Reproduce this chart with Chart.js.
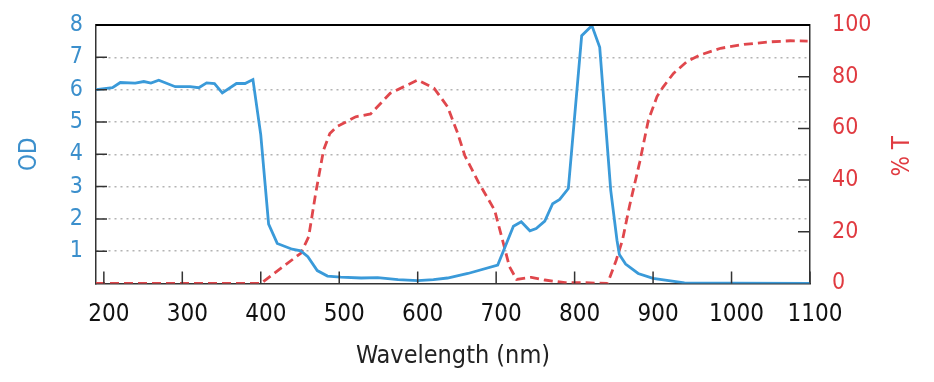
<!DOCTYPE html>
<html>
<head>
<meta charset="utf-8">
<script src="https://cdn.jsdelivr.net/npm/chart.js@4.4.0/dist/chart.umd.min.js"></script>
<style>
  html, body { margin: 0; padding: 0; background: #fff; }
  #wrap { width: 934px; height: 382px; position: relative; }
</style>
</head>
<body>
<div id="wrap"><canvas id="odChart"></canvas></div>
<script>
// --- datos ---
const odWavelengths = [190, 211, 221, 240, 251, 260, 270, 291, 310, 321, 331, 341, 351, 369, 380, 390, 400, 410, 421, 440, 451, 460, 472, 485, 502, 528, 549, 575, 600, 620, 638, 664, 702, 722, 732, 743, 751, 762, 772, 781, 792, 809, 822, 832, 846, 854, 857, 865, 881, 900, 940, 1000, 1100];
const odValues = [6.0, 6.06, 6.22, 6.2, 6.25, 6.2, 6.29, 6.09, 6.09, 6.06, 6.21, 6.19, 5.9, 6.19, 6.19, 6.31, 4.6, 1.84, 1.24, 1.06, 1.01, 0.83, 0.4, 0.23, 0.2, 0.17, 0.18, 0.12, 0.09, 0.12, 0.17, 0.31, 0.57, 1.77, 1.91, 1.63, 1.7, 1.93, 2.47, 2.6, 2.94, 7.67, 7.98, 7.31, 2.89, 1.34, 0.9, 0.6, 0.31, 0.16, 0.02, 0.01, 0.0];

const tWavelengths = [190, 400, 417, 451, 461, 470, 480, 488, 497, 501, 521, 540, 565, 600, 621, 638, 651, 660, 677, 698, 707, 717, 726, 745, 762, 788, 814, 842, 853, 861, 870, 883, 894, 905, 913, 926, 943, 960, 986, 1016, 1050, 1075, 1097];
const tValues = [0, 0, 3.9, 11.7, 18, 34.9, 51.6, 58, 60.7, 61.3, 64.5, 65.6, 73.6, 78.7, 75.5, 68.4, 58.1, 49.5, 39.4, 28.4, 18.1, 6.5, 1.6, 2.4, 1.35, 0.3, 0.3, 0, 9, 16.8, 30, 47, 63.2, 72.3, 76.1, 81.3, 85.8, 88.4, 91, 92.5, 93.5, 93.9, 93.8];

const xTicks = [200, 300, 400, 500, 600, 700, 800, 900, 1000, 1100];

const BLUE = '#3a9ad9';
const BLUE_TEXT = '#3b8fcc';
const RED = '#e0474c';
const RED_TEXT = '#e03a40';
const FONT = "'DejaVu Sans Condensed', 'DejaVu Sans', sans-serif";

function toPoints(xs, ys) {
  return xs.map((x, i) => ({ x: x, y: ys[i] }));
}

// Los ejes verticales no reservan espacio extra arriba/abajo
function fixVertical(width) {
  return scale => {
    scale.width = width;
    scale.paddingTop = 0;
    scale.paddingBottom = 0;
  };
}

// Ticks hacia dentro, borde superior y título derecho
const frame = {
  id: 'frame',
  afterDraw(chart) {
    const { ctx, chartArea, scales } = chart;
    const { left, right, top, bottom } = chartArea;
    ctx.save();
    ctx.strokeStyle = '#333';
    ctx.lineWidth = 1.5;
    ctx.beginPath();
    xTicks.forEach(v => {
      const px = scales.x.getPixelForValue(v);
      ctx.moveTo(px, bottom);
      ctx.lineTo(px, bottom - 12);
    });
    scales.yOD.ticks.forEach(t => {
      if (t.value <= 0 || t.value >= 8) return;
      const py = scales.yOD.getPixelForValue(t.value);
      ctx.moveTo(left, py);
      ctx.lineTo(left + 11, py);
    });
    scales.yT.ticks.forEach(t => {
      if (t.value <= 0 || t.value >= 100) return;
      const py = scales.yT.getPixelForValue(t.value);
      ctx.moveTo(right, py);
      ctx.lineTo(right - 12, py);
    });
    ctx.stroke();

    ctx.strokeStyle = '#000';
    ctx.lineWidth = 2;
    ctx.beginPath();
    ctx.moveTo(left, top);
    ctx.lineTo(right, top);
    ctx.stroke();

    // "% T" se lee de abajo hacia arriba
    ctx.translate(903, (top + bottom) / 2 + 2);
    ctx.rotate(-Math.PI / 2);
    ctx.fillStyle = RED_TEXT;
    ctx.font = '24px ' + FONT;
    ctx.textAlign = 'center';
    ctx.textBaseline = 'middle';
    ctx.fillText('% T', 0, 0);
    ctx.restore();
  }
};

new Chart(document.getElementById('odChart'), {
  type: 'line',
  data: {
    datasets: [
      {
        label: 'OD',
        data: toPoints(odWavelengths, odValues),
        yAxisID: 'yOD',
        borderColor: BLUE,
        borderWidth: 2.8,
        pointRadius: 0,
        tension: 0
      },
      {
        label: '% T',
        data: toPoints(tWavelengths, tValues),
        yAxisID: 'yT',
        borderColor: RED,
        borderWidth: 2.8,
        borderDash: [9, 5],
        pointRadius: 0,
        tension: 0
      }
    ]
  },
  options: {
    responsive: true,
    maintainAspectRatio: false,
    animation: false,
    layout: { padding: { top: 25, left: 0, right: 0, bottom: 0 } },
    plugins: {
      legend: { display: false },
      tooltip: { enabled: false }
    },
    scales: {
      x: {
        type: 'linear',
        min: 190,
        max: 1100,
        afterBuildTicks: scale => { scale.ticks = xTicks.map(v => ({ value: v })); },
        afterFit: scale => { scale.height = 98.5; },
        grid: { drawOnChartArea: false, drawTicks: false },
        border: { display: true, color: '#333', width: 1.5 },
        ticks: {
          color: '#111',
          font: { family: FONT, size: 24 },
          padding: 17,
          labelOffset: 5,
          maxRotation: 0,
          autoSkip: false,
          callback: v => String(v)
        },
        title: {
          display: true,
          text: 'Wavelength (nm)',
          color: '#222',
          font: { family: FONT, size: 25 },
          padding: { top: 0, bottom: 11 }
        }
      },
      yOD: {
        position: 'left',
        min: 0,
        max: 8,
        afterFit: fixVertical(96),
        grid: {
          drawTicks: false,
          color: ctx => (ctx.tick && ctx.tick.value > 0 && ctx.tick.value < 8) ? '#b4b4b4' : 'rgba(0,0,0,0)',
          lineWidth: 1.5
        },
        border: { display: true, color: '#333', width: 1.5, dash: [2, 4] },
        ticks: {
          stepSize: 1,
          color: BLUE_TEXT,
          font: { family: FONT, size: 23 },
          padding: 13,
          callback: v => (v === 0 ? '' : v)
        },
        title: {
          display: true,
          text: 'OD',
          color: BLUE_TEXT,
          font: { family: FONT, size: 24 },
          padding: { top: 15, bottom: 0 }
        }
      },
      yT: {
        position: 'right',
        min: 0,
        max: 100,
        afterFit: fixVertical(124),
        grid: { drawOnChartArea: false, drawTicks: false },
        border: { display: true, color: '#333', width: 1.5 },
        ticks: {
          stepSize: 10,
          color: RED_TEXT,
          font: { family: FONT, size: 23 },
          padding: 22,
          callback: v => (v % 20 === 0 ? v : '')
        }
      }
    }
  },
  plugins: [frame]
});
</script>
</body>
</html>
